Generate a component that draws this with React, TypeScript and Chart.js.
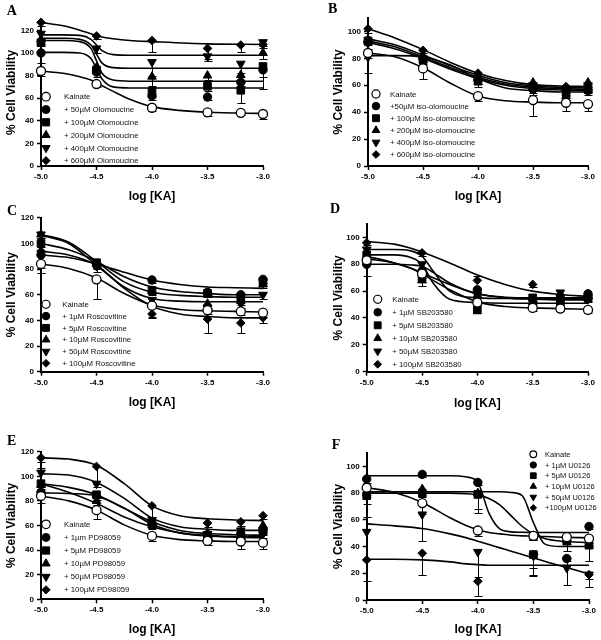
import React, { useEffect, useRef } from 'react';
import { Chart, registerables } from 'chart.js';

Chart.register(...registerables);

const FONT = '"Liberation Sans", Arial, Helvetica, sans-serif';

// ---------- shared axes ----------
const KA_X = [-5, -4.5, -4, -3.5, -3.2, -3];
const KA_X_D = [-5, -4.5, -4, -3.5, -3.25, -3];
const X_TICKS = [-5, -4.5, -4, -3.5, -3];
const Y_TICKS_120 = [0, 20, 40, 60, 80, 100, 120];
const Y_TICKS_100 = [0, 20, 40, 60, 80, 100];

// Error arrays are one-sided SEM bars: negative = bar drawn downward, positive = upward.

// ---------- Panel A ----------
const A_LABELS = ['Kainate', '+ 50µM Olomoucine', '+ 100µM Olomoucine', '+ 200µM Olomoucine', '+ 400µM Olomoucine', '+ 600µM Olomoucine'];
const A_Y = [
  [84, 72.5, 51.5, 47.5, 47, 46],
  [100, 83, 62, 61, 74, 85],
  [109, 85, 66, 70.5, 67, 88],
  [112, 87, 79, 80, 80.5, 100],
  [117, 104, 92, 97, 90.5, 109.5],
  [127, 115, 111, 104, 107, 107.5],
];
const A_ERR = [
  [-4, -3, -3, -3, -2, -4],
  [-9, -4, -4, -3, -3, -6],
  [-3, -3, -5, -4, -11, -20],
  [-4, -4, -8, -4, -6, -5],
  [-5, -4, -12, -4, -8, -3],
  [-3, -3, -10, -9, -6, -3],
];
const A_CURVE_X = [-5, -4.8, -4.65, -4.55, -4.5, -4.45, -4.35, -4.2, -4, -3.5, -3];
const A_CURVE_Y = [
  [84, 82, 79, 76, 73.5, 71, 66, 59, 52.5, 47.5, 46.5],
  [100.5, 100.5, 100, 95, 86, 77, 70, 69, 69, 69, 69],
  [111, 111, 110, 104, 93, 82, 76, 75, 75, 75, 75],
  [113, 113, 112, 107, 99, 91, 87, 86.5, 86.5, 86.5, 86.5],
  [116, 116, 115.5, 112, 107, 102, 98.5, 98, 98, 98, 98],
  [127, 124, 120, 117, 115.5, 114, 112.5, 111, 110, 108, 107.5],
];

// ---------- Panel B ----------
const B_LABELS = ['Kainate', '+50µM iso-olomoucine', '+ 100µM iso-olomoucine', '+ 200µM iso-olomoucine', '+ 400µM iso-olomoucine', '+ 600µM iso-olomoucine'];
const B_Y = [
  [84, 72.5, 52, 49, 47, 46],
  [92, 80, 64, 57, 57, 56],
  [93, 79, 63, 59, 55, 57],
  [94, 81, 67, 62, 52, 62],
  [81, 80, 65, 60, 56, 60],
  [102, 86, 69, 60, 59, 58],
];
const B_ERR = [
  [-4, -8, -4, -12, -6, -5],
  [-5, -3, -3, -4, -3, -3],
  [-3, -3, -4, -5, -3, -3],
  [-3, -3, -3, -3, -3, -3],
  [-12, -3, -4, -3, -3, -3],
  [-3, -2, -2, -3, -2, -3],
];
const B_CURVE_X = [-5, -4.75, -4.5, -4.25, -4, -3.75, -3.5, -3.25, -3];
const B_CURVE_Y = [
  [84, 81, 73, 61.5, 52, 48.5, 47.5, 47, 47],
  [92, 87, 80, 72, 65, 60, 57.5, 56.5, 56],
  [93, 88.5, 81, 73, 66, 61, 58.5, 57.5, 57],
  [94.5, 90, 82.5, 74.5, 67.5, 62, 59.5, 58.5, 58],
  [82, 82, 81, 75, 65, 58, 56, 55, 55],
  [102, 95, 86.5, 77, 69, 63.5, 60.5, 59.5, 59],
];

// ---------- Panel C ----------
const C_LABELS = ['Kainate', '+ 1µM Roscovitine', '+ 5µM Roscovitine', '+ 10µM Roscovitine', '+ 50µM Roscovitine', '+ 100µM Roscovitine'];
const C_Y = [
  [84, 72, 51.5, 48, 47, 46],
  [91, 84, 71.5, 62, 60, 72],
  [100, 85, 63.5, 61, 58, 70],
  [107, 84, 63, 53, 55, 68],
  [107, 83, 56, 50, 53, 60],
  [94, 82, 45, 41, 38, 42],
];
const C_ERR = [
  [-3, -15, -9, -3, -3, -3],
  [-14, -3, -2, -2, -2, -3],
  [-3, -3, -3, -3, -3, -3],
  [-3, -3, -3, -3, -3, -3],
  [-3, -3, -3, -3, -3, -3],
  [-3, -4, -3, -11, -8, -4],
];
const C_CURVE_X = [-5, -4.75, -4.5, -4.25, -4, -3.75, -3.5, -3.25, -3];
const C_CURVE_Y = [
  [84, 80.5, 73, 61, 52, 48.5, 47.5, 47, 46.5],
  [91, 89, 84, 77.5, 71.5, 68, 66, 65.5, 65],
  [100, 95, 86, 74, 66, 62.5, 61, 60, 60],
  [107, 101, 86, 70, 62, 59.5, 58.5, 58, 58],
  [106.5, 100, 83, 66, 57, 55, 54.5, 54.5, 54.5],
  [94, 91, 83, 65, 51, 45, 43, 42, 42],
];

// ---------- Panel D ----------
const D_LABELS = ['Kainate', '+ 1µM SB203580', '+ 5µM SB203580', '+ 10µM SB203580', '+ 50µM SB203580', '+ 100µM SB203580'];
const D_Y = [
  [83, 73, 51.5, 47.5, 47, 46],
  [80, 75, 61, 54, 55, 58],
  [87, 70, 46, 55, 52, 55],
  [85, 68, 57, 52, 55, 56],
  [91, 80, 57, 53, 59, 54],
  [96, 88.5, 68, 65, 57, 57],
];
const D_ERR = [
  [-3, -3, -2, -2, -2, -2],
  [-9, -3, -2, -2, -2, -2],
  [-3, -3, -2, -2, -2, -2],
  [-3, -4, -2, -2, -2, -2],
  [-3, -3, -2, -2, -3, -2],
  [-2, -2, 3, -2, -2, -2],
];
const D_CURVE_X = [-5, -4.75, -4.6, -4.5, -4.4, -4.25, -4, -3.75, -3.5, -3.25, -3];
const D_CURVE_Y = [
  [84, 81, 77, 73, 68, 61, 52, 48.5, 47.5, 47, 46.5],
  [80, 80, 79.5, 78.5, 74, 66, 58, 55.5, 55, 55, 55],
  [87, 87, 85, 80, 66, 54, 51.5, 51, 51, 51, 51],
  [86, 81, 77, 73.5, 70, 65, 58, 55, 54, 53.5, 53.5],
  [91, 91, 90, 86, 75, 60, 55, 54.5, 54.5, 54.5, 54.5],
  [97, 95, 92, 89, 86, 81, 72, 65, 60, 57.5, 56],
];

// ---------- Panel E ----------
const E_LABELS = ['Kainate', '+ 1µm PD98059', '+ 5µM PD98059', '+ 10µM PD98059', '+ 50µM PD98059', '+ 100µM PD98059'];
const E_Y = [
  [84, 72.5, 51.5, 47.5, 47, 46],
  [87, 84, 61, 52, 50, 57],
  [94, 85, 62, 52, 52, 55],
  [93, 80, 60, 54, 55, 60],
  [103, 94, 64.5, 53, 56, 53],
  [115, 108, 76, 62, 63, 68],
];
const E_ERR = [
  [-6, -7, -4, -3, -6, -5],
  [-3, -3, -3, -3, -3, -3],
  [-3, -3, -3, -3, -3, -3],
  [-3, -3, -3, -3, -3, -3],
  [4, -3, -3, -3, -3, -3],
  [-3, -14, -16, -3, -3, -3],
];
const E_CURVE_X = [-5, -4.75, -4.5, -4.25, -4, -3.75, -3.5, -3.25, -3];
const E_CURVE_Y = [
  [84, 80, 72.5, 60.5, 52, 48.5, 47.5, 47, 47],
  [86.5, 86, 84, 74, 61, 54, 52, 51, 51],
  [94, 91, 85, 74, 63, 56, 53.5, 52.5, 52],
  [94, 87, 78, 67, 59, 54, 51.5, 50.5, 50],
  [102, 101, 95, 82, 66, 59, 57, 56, 56],
  [115, 114, 109, 94, 76, 68, 65.5, 64.5, 64],
];

// ---------- Panel F ----------
const F_LABELS = ['Kainate', '+ 1µM U0126', '+ 5µM U0126', '+ 10µM U0126', '+ 50µM U0126', '+100µM U0126'];
const F_Y = [
  [84, 72.5, 52, 48, 47, 46],
  [90.5, 94, 88, 48, 31, 55],
  [78, 80, 79, 34, 44, 41],
  [80, 83, 80, 48, 45, 42],
  [51, 64, 36, 33, 24, 19],
  [30, 35, 14, 34, 31, 19],
];
const F_ERR = [
  [-3, -8, -4, -3, -2, -3],
  [-3, -2, -2, -2, -2, -2],
  [-6, -3, -14, -10, -7, -12],
  [-3, -3, -12, -3, -3, -3],
  [11, -20, -19, -15, -13, -9],
  [-16, -16, -11, -15, -5, -3],
];
const F_CURVE_X = [-5, -4.75, -4.5, -4.25, -4.1, -4, -3.9, -3.8, -3.7, -3.6, -3.5, -3.4, -3.25, -3];
const F_CURVE_Y = [
  [84, 80.5, 73, 61.5, 55.5, 52.5, 50.5, 49.5, 48.5, 48, 47.8, 47.5, 47, 46.5],
  [93, 93, 93, 93, 92, 88, 65, 53, 51, 50.7, 50.5, 50.5, 50.5, 50.5],
  [81, 81, 81, 81, 81, 81, 81, 81, 80.5, 78, 58, 42, 40, 40],
  [80, 80, 80, 80, 79.5, 78.5, 76, 71, 63, 55, 49.5, 46, 44, 43],
  [57, 55.5, 53.5, 49.5, 46.5, 44, 41.5, 39, 36.5, 34, 31.5, 29, 25.5, 19.5],
  [30.5, 30.5, 30, 28.5, 27, 26.5, 26, 26, 26, 26, 26, 26, 26, 26],
];

// ---------- styles ----------
const MARKERS = [
  { style: 'circle', rot: 0, r: 4.5, open: true },
  { style: 'circle', rot: 0, r: 4.2, open: false },
  { style: 'rect', rot: 0, r: 5.4, open: false },
  { style: 'triangle', rot: 0, r: 5, open: false },
  { style: 'triangle', rot: 180, r: 5, open: false },
  { style: 'rectRot', rot: 0, r: 4.3, open: false },
];

const PANELS = [
  { letter: 'A', lx: 6.7, ly: 4.3, left: 0, top: 0, w: 300, h: 210, area: { l: 41, r: 263, t: 19, b: 166 }, yMax: 130, yTicks: Y_TICKS_120, yTitleX: 12, xTitleY: 197, lg: { mx: 46, tx: 64, y0: 96.7, dy: 12.8, font: 7.8, scale: 0.95 }, labels: A_LABELS, x: KA_X, y: A_Y, err: A_ERR, cx: A_CURVE_X, cy: A_CURVE_Y },
  { letter: 'B', lx: 328, ly: 1.6, left: 300, top: 0, w: 301, h: 210, area: { l: 68, r: 288, t: 18, b: 166 }, yMax: 110, yTicks: Y_TICKS_100, yTitleX: 38.7, xTitleY: 196.7, lg: { mx: 76, tx: 90, y0: 94, dy: 12.1, font: 7.8, scale: 0.9 }, labels: B_LABELS, x: KA_X, y: B_Y, err: B_ERR, cx: B_CURVE_X, cy: B_CURVE_Y },
  { letter: 'C', lx: 7, ly: 203.6, left: 0, top: 210, w: 300, h: 215, area: { l: 41, r: 263, t: 6.7, b: 161.7 }, yMax: 120, yTicks: Y_TICKS_120, yTitleX: 11.7, xTitleY: 192.5, lg: { mx: 46, tx: 62.3, y0: 94.3, dy: 11.8, font: 7.8, scale: 0.9 }, labels: C_LABELS, x: KA_X, y: C_Y, err: C_ERR, cx: C_CURVE_X, cy: C_CURVE_Y },
  { letter: 'D', lx: 330, ly: 201.6, left: 300, top: 210, w: 301, h: 215, area: { l: 66.7, r: 288, t: 14, b: 161.7 }, yMax: 110, yTicks: Y_TICKS_100, yTitleX: 38.7, xTitleY: 193.5, lg: { mx: 77.7, tx: 92.3, y0: 89.3, dy: 13, font: 7.8, scale: 0.9 }, labels: D_LABELS, x: KA_X_D, y: D_Y, err: D_ERR, cx: D_CURVE_X, cy: D_CURVE_Y },
  { letter: 'E', lx: 7, ly: 434.3, left: 0, top: 425, w: 300, h: 215, area: { l: 41, r: 263, t: 26.7, b: 174.3 }, yMax: 120, yTicks: Y_TICKS_120, yTitleX: 12, xTitleY: 204.3, lg: { mx: 46, tx: 64, y0: 99.3, dy: 13.1, font: 7.8, scale: 0.95 }, labels: E_LABELS, x: KA_X, y: E_Y, err: E_ERR, cx: E_CURVE_X, cy: E_CURVE_Y },
  { letter: 'F', lx: 331.7, ly: 437.6, left: 300, top: 425, w: 301, h: 215, area: { l: 66.7, r: 289, t: 28, b: 175 }, yMax: 110, yTicks: Y_TICKS_100, yTitleX: 38.7, xTitleY: 205, lg: { mx: 233.3, tx: 245, y0: 29.3, dy: 10.7, font: 7.5, scale: 0.75 }, labels: F_LABELS, x: KA_X, y: F_Y, err: F_ERR, cx: F_CURVE_X, cy: F_CURVE_Y },
];

function drawMarker(ctx: CanvasRenderingContext2D, m: any, x: number, y: number, scale: number) {
  const r = m.r * scale;
  ctx.beginPath();
  if (m.style === 'circle') {
    ctx.arc(x, y, r, 0, Math.PI * 2);
  } else if (m.style === 'rect') {
    const s = Math.SQRT1_2 * r;
    ctx.rect(x - s, y - s, 2 * s, 2 * s);
  } else if (m.style === 'triangle') {
    let a = (m.rot * Math.PI) / 180;
    ctx.moveTo(x + Math.sin(a) * r, y - Math.cos(a) * r);
    a += (2 * Math.PI) / 3;
    ctx.lineTo(x + Math.sin(a) * r, y - Math.cos(a) * r);
    a += (2 * Math.PI) / 3;
    ctx.lineTo(x + Math.sin(a) * r, y - Math.cos(a) * r);
    ctx.closePath();
  } else {
    ctx.moveTo(x - r, y);
    ctx.lineTo(x, y - r);
    ctx.lineTo(x + r, y);
    ctx.lineTo(x, y + r);
    ctx.closePath();
  }
  ctx.fillStyle = m.open ? '#fff' : '#000';
  ctx.fill();
  ctx.strokeStyle = '#000';
  ctx.lineWidth = m.open ? 1.2 : 1;
  ctx.stroke();
}

function buildConfig(p: any) {
  const { area, w, h } = p;
  const datasets: any[] = [];
  p.y.forEach((ys: number[], i: number) => {
    const m = MARKERS[i];
    datasets.push({
      type: 'line',
      data: p.x.map((x: number, j: number) => ({ x, y: ys[j] })),
      showLine: false,
      pointStyle: m.style,
      pointRotation: m.rot,
      pointRadius: m.r,
      pointHoverRadius: m.r,
      pointBackgroundColor: m.open ? '#fff' : '#000',
      pointBorderColor: '#000',
      pointBorderWidth: m.open ? 1.3 : 1,
      order: i === 0 ? 0 : 1,
      clip: false,
    });
    datasets.push({
      type: 'line',
      data: p.cx.map((x: number, j: number) => ({ x, y: p.cy[i][j] })),
      borderColor: '#000',
      borderWidth: 1.6,
      pointRadius: 0,
      fill: false,
      cubicInterpolationMode: 'monotone',
      order: 2,
      clip: false,
    });
  });

  const errPlugin = {
    id: 'errBars' + p.letter,
    beforeDatasetsDraw(chart: any) {
      const { ctx } = chart;
      const xs = chart.scales.x;
      const ysc = chart.scales.y;
      ctx.save();
      ctx.strokeStyle = '#000';
      ctx.lineWidth = 1;
      p.y.forEach((ys: number[], i: number) => {
        ys.forEach((v: number, j: number) => {
          const e = p.err[i][j];
          if (!e) return;
          const px = Math.round(xs.getPixelForValue(p.x[j])) + 0.5;
          const p1 = ysc.getPixelForValue(v);
          const p2 = Math.round(ysc.getPixelForValue(v + e)) + 0.5;
          ctx.beginPath();
          ctx.moveTo(px, p1);
          ctx.lineTo(px, p2);
          ctx.moveTo(px - 4, p2);
          ctx.lineTo(px + 4, p2);
          ctx.stroke();
        });
      });
      ctx.restore();
    },
  };

  const legendPlugin = {
    id: 'legendBox' + p.letter,
    afterDraw(chart: any) {
      const { ctx } = chart;
      ctx.save();
      p.labels.forEach((label: string, i: number) => {
        const y = p.lg.y0 + i * p.lg.dy;
        drawMarker(ctx, MARKERS[i], p.lg.mx, y, p.lg.scale);
        ctx.fillStyle = '#111';
        ctx.font = `${p.lg.font}px ${FONT}`;
        ctx.textAlign = 'left';
        ctx.textBaseline = 'middle';
        ctx.fillText(label, p.lg.tx, y + 0.5);
      });
      ctx.restore();
    },
  };

  const tickFont = { family: FONT, size: 8, weight: 'bold' };
  const titleFont = { family: FONT, size: 12, weight: 'bold' };

  return {
    type: 'line',
    data: { datasets },
    plugins: [errPlugin, legendPlugin],
    options: {
      responsive: false,
      maintainAspectRatio: false,
      animation: false,
      devicePixelRatio: 1,
      events: [],
      layout: { padding: { left: 0, top: area.t, right: w - area.r, bottom: 0 } },
      plugins: { legend: { display: false }, tooltip: { enabled: false }, title: { display: false } },
      scales: {
        x: {
          type: 'linear',
          min: -5,
          max: -3,
          afterBuildTicks: (s: any) => {
            s.ticks = X_TICKS.map((v) => ({ value: v }));
          },
          afterFit: (s: any) => {
            s.height = h - area.b;
          },
          ticks: {
            callback: (v: any) => Number(v).toFixed(1),
            font: tickFont,
            color: '#000',
            padding: 2,
            maxRotation: 0,
            autoSkip: false,
          },
          grid: { display: true, drawOnChartArea: false, drawTicks: true, tickLength: 4, tickWidth: 1.5, tickColor: '#000', color: '#000' },
          border: { display: true, color: '#000', width: 2 },
          title: { display: true, text: 'log [KA]', color: '#000', font: titleFont, padding: { top: 0, bottom: h - p.xTitleY - 7.2 } },
        },
        y: {
          type: 'linear',
          min: 0,
          max: p.yMax,
          afterBuildTicks: (s: any) => {
            s.ticks = p.yTicks.map((v: number) => ({ value: v }));
          },
          afterFit: (s: any) => {
            s.width = area.l;
          },
          ticks: { font: tickFont, color: '#000', padding: 3, autoSkip: false },
          grid: { display: true, drawOnChartArea: false, drawTicks: true, tickLength: 4, tickWidth: 1.5, tickColor: '#000', color: '#000' },
          border: { display: true, color: '#000', width: 2 },
          title: { display: true, text: '% Cell Viability', color: '#000', font: titleFont, padding: { top: p.yTitleX - 7.2, bottom: 0 } },
        },
      },
    },
  };
}

function Panel({ p }: { p: any }) {
  const ref = useRef<HTMLCanvasElement | null>(null);
  useEffect(() => {
    if (!ref.current) return;
    const chart = new Chart(ref.current, buildConfig(p) as any);
    return () => chart.destroy();
  }, [p]);
  return (
    <canvas
      ref={ref}
      width={p.w}
      height={p.h}
      style={{ position: 'absolute', left: p.left, top: p.top, width: p.w, height: p.h }}
    />
  );
}

export default function App() {
  return (
    <div style={{ position: 'absolute', left: 0, top: 0, width: 601, height: 640, background: '#fff', overflow: 'hidden' }}>
      {PANELS.map((p) => (
        <Panel key={p.letter} p={p} />
      ))}
      {PANELS.map((p) => (
        <div
          key={'L' + p.letter}
          style={{
            position: 'absolute',
            left: p.lx,
            top: p.ly,
            fontFamily: '"Liberation Serif", "Times New Roman", serif',
            fontWeight: 'bold',
            fontSize: 14,
            lineHeight: 1,
            color: '#000',
            zIndex: 2,
          }}
        >
          {p.letter}
        </div>
      ))}
    </div>
  );
}
